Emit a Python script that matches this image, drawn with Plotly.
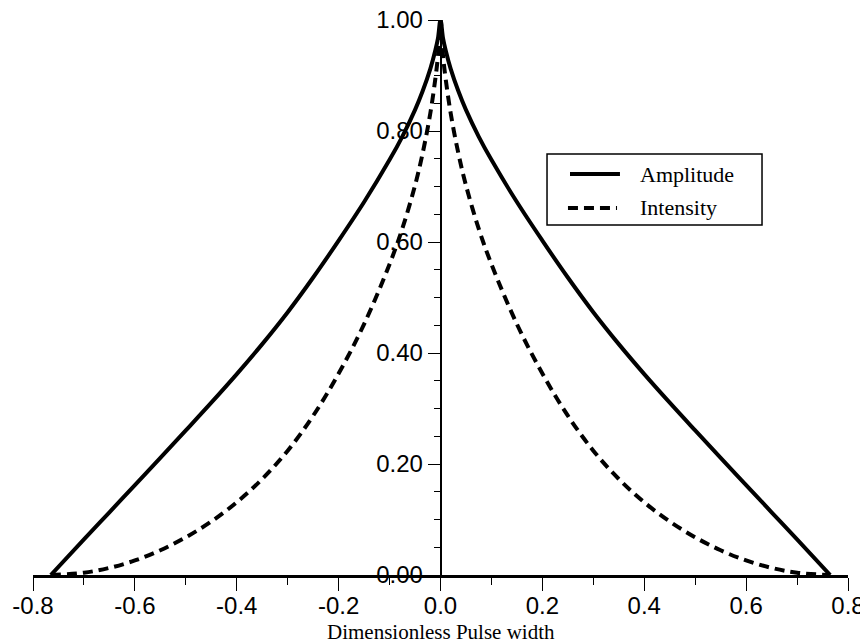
import plotly.graph_objects as go

# Dimensionless pulse width (x) and read-off values
x_vals = [-0.765, -0.70, -0.65, -0.60, -0.55, -0.50, -0.45, -0.40, -0.35, -0.30,
          -0.25, -0.20, -0.15, -0.10, -0.075, -0.05, -0.035, -0.02, -0.01, -0.005,
          0.0,
          0.005, 0.01, 0.02, 0.035, 0.05, 0.075, 0.10, 0.15, 0.20, 0.25,
          0.30, 0.35, 0.40, 0.45, 0.50, 0.55, 0.60, 0.65, 0.70, 0.765]

amplitude = [0.0, 0.064, 0.113, 0.162, 0.211, 0.2605, 0.3105, 0.362, 0.416, 0.4735,
             0.536, 0.6025, 0.672, 0.748, 0.790, 0.838, 0.872, 0.912, 0.946, 0.967,
             1.0,
             0.967, 0.946, 0.912, 0.872, 0.838, 0.790, 0.748, 0.672, 0.6025, 0.536,
             0.4735, 0.416, 0.362, 0.3105, 0.2605, 0.211, 0.162, 0.113, 0.064, 0.0]

intensity = [0.0, 0.0041, 0.0128, 0.0262, 0.0445, 0.0679, 0.0964, 0.131, 0.173, 0.224,
             0.287, 0.363, 0.452, 0.560, 0.624, 0.702, 0.760, 0.832, 0.895, 0.935,
             1.0,
             0.935, 0.895, 0.832, 0.760, 0.702, 0.624, 0.560, 0.452, 0.363, 0.287,
             0.224, 0.173, 0.131, 0.0964, 0.0679, 0.0445, 0.0262, 0.0128, 0.0041, 0.0]

series_names = ["Amplitude", "Intensity"]
x_title = "Dimensionless Pulse width"

x_ticks = [-0.8, -0.6, -0.4, -0.2, 0.0, 0.2, 0.4, 0.6, 0.8]
x_ticklabels = ["-0.8", "-0.6", "-0.4", "-0.2", "0.0", "0.2", "0.4", "0.6", "0.8"]
y_ticks = [0.0, 0.2, 0.4, 0.6, 0.8, 1.0]
y_ticklabels = ["0.00", "0.20", "0.40", "0.60", "0.80", "1.00"]

dash_style = "10px,6px"
line_w = 4

fig = go.Figure()
fig.add_trace(go.Scatter(x=x_vals, y=amplitude, mode="lines", name=series_names[0],
                         line=dict(color="black", width=line_w, shape="spline", smoothing=1.0)))
fig.add_trace(go.Scatter(x=x_vals, y=intensity, mode="lines", name=series_names[1],
                         line=dict(color="black", width=line_w, dash=dash_style,
                                   shape="spline", smoothing=1.0)))

# Hand-built legend box (paper coordinates)
shapes = [
    dict(type="rect", xref="paper", yref="paper", x0=0.6307, x1=0.8945, y0=0.6306, y1=0.7586,
         line=dict(color="black", width=1.5), fillcolor="white", layer="above"),
    dict(type="line", xref="paper", yref="paper", x0=0.6589, x1=0.7202, y0=0.7225, y1=0.7225,
         line=dict(color="black", width=line_w), layer="above"),
    dict(type="line", xref="paper", yref="paper", x0=0.6564, x1=0.7166, y0=0.6613, y1=0.6613,
         line=dict(color="black", width=line_w, dash=dash_style), layer="above"),
]
annotations = [
    dict(xref="paper", yref="paper", x=0.7423, y=0.7225, text=series_names[0],
         xanchor="left", yanchor="middle", showarrow=False,
         font=dict(family="Liberation Serif", size=22, color="black")),
    dict(xref="paper", yref="paper", x=0.7423, y=0.6613, text=series_names[1],
         xanchor="left", yanchor="middle", showarrow=False,
         font=dict(family="Liberation Serif", size=22, color="black")),
    dict(xref="paper", yref="paper", x=0.5, y=-0.1027, text=x_title,
         xanchor="center", yanchor="middle", showarrow=False,
         font=dict(family="Liberation Serif", size=21, color="black")),
]

fig.update_layout(
    width=860, height=635,
    margin=dict(l=25, r=20, t=12, b=68),
    plot_bgcolor="white", paper_bgcolor="white",
    showlegend=False,
    shapes=shapes,
    annotations=annotations,
    xaxis=dict(range=[-0.8, 0.8], showgrid=False, zeroline=False, automargin=False,
               showline=True, linecolor="black", linewidth=2.5,
               ticks="outside", ticklen=13, tickwidth=1, tickcolor="black",
               tickvals=x_ticks, ticktext=x_ticklabels, ticklabelstandoff=-6,
               ticklabeloverflow="allow",
               tickfont=dict(family="Liberation Sans", size=24, color="black"),
               minor=dict(dtick=0.1, tick0=0, ticks="outside", ticklen=7,
                          tickwidth=1, tickcolor="black")),
    yaxis=dict(range=[0, 1.0], showgrid=False, zeroline=False, automargin=False,
               anchor="free", position=0.5,
               showline=True, linecolor="black", linewidth=1.5,
               ticks="outside", ticklen=12, tickwidth=1, tickcolor="black",
               tickvals=y_ticks, ticktext=y_ticklabels, ticklabelstandoff=0,
               ticklabeloverflow="allow",
               tickfont=dict(family="Liberation Sans", size=24, color="black"),
               minor=dict(dtick=0.05, tick0=0, ticks="outside", ticklen=6,
                          tickwidth=1, tickcolor="black")),
)

fig.write_html("out.html")
